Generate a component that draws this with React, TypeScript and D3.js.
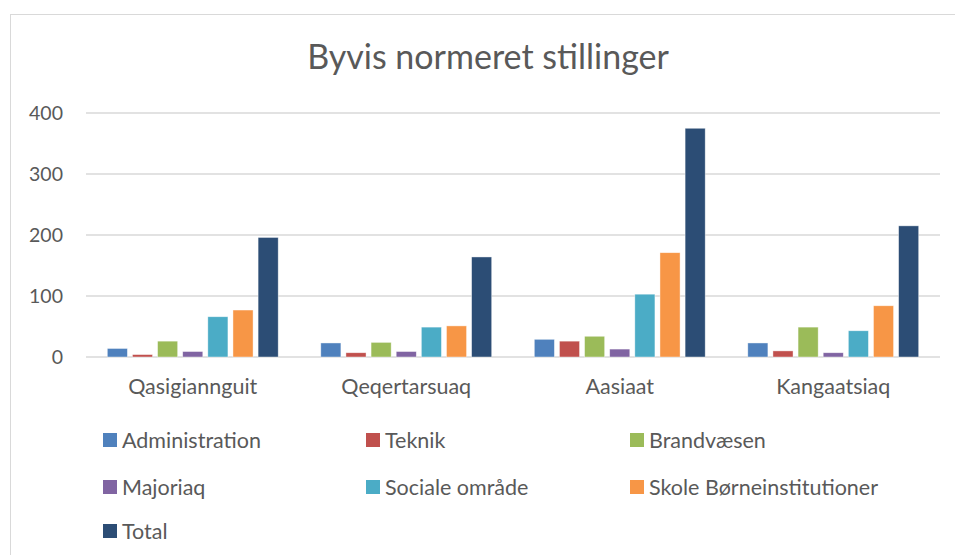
import React, { useRef, useEffect } from "react";
import * as d3 from "d3";

const width = 955;
const height = 555;

const cities = ["Qasigiannguit", "Qeqertarsuaq", "Aasiaat", "Kangaatsiaq"];
const seriesNames = [
  "Administration",
  "Teknik",
  "Brandvæsen",
  "Majoriaq",
  "Sociale område",
  "Skole Børneinstitutioner",
  "Total",
];
const seriesColors = ["#4f81bd", "#c0504d", "#9bbb59", "#8064a2", "#4bacc6", "#f79646", "#2c4d75"];

// values per series, in city order
const administration = [14, 23, 29, 23];
const teknik = [4, 7, 26, 10];
const brandvaesen = [26, 24, 34, 49];
const majoriaq = [9, 9, 13, 7];
const socialeOmraade = [66, 49, 103, 43];
const skoleBoern = [77, 51, 171, 84];
const total = [196, 164, 375, 215];

const yTicks = [0, 100, 200, 300, 400];

const margin = { top: 113, right: 15, bottom: 198, left: 86 };
const font = "Lato, 'Open Sans', sans-serif";
const textColor = "#595959";

const App: React.FC = () => {
  const svgRef = useRef<SVGSVGElement | null>(null);

  useEffect(() => {
    if (!svgRef.current) return;
    const svg = d3.select(svgRef.current);
    svg.selectAll("*").remove();

    const series = [administration, teknik, brandvaesen, majoriaq, socialeOmraade, skoleBoern, total];
    const innerWidth = width - margin.left - margin.right;
    const innerHeight = height - margin.top - margin.bottom;

    // chart frame
    svg
      .append("rect")
      .attr("x", 10.5)
      .attr("y", 14.5)
      .attr("width", width + 20)
      .attr("height", height + 20)
      .attr("fill", "white")
      .attr("stroke", "#d9d9d9");

    svg
      .append("text")
      .attr("x", 488)
      .attr("y", 69)
      .attr("text-anchor", "middle")
      .attr("font-family", font)
      .attr("font-size", 34)
      .attr("fill", textColor)
      .text("Byvis normeret stillinger");

    const g = svg.append("g").attr("transform", `translate(${margin.left},${margin.top})`);

    const x0 = d3.scaleBand<string>().domain(cities).range([0, innerWidth]).paddingInner(0.176).paddingOuter(0.088);
    const x1 = d3
      .scaleBand<string>()
      .domain(seriesNames)
      .range([0, x0.bandwidth()])
      .paddingInner(0.2)
      .paddingOuter(0.1);
    const y = d3.scaleLinear().domain([0, 400]).range([innerHeight, 0]);

    // gridlines
    g.append("g")
      .selectAll("line")
      .data(yTicks)
      .enter()
      .append("line")
      .attr("x1", 0)
      .attr("x2", innerWidth)
      .attr("y1", (d) => y(d))
      .attr("y2", (d) => y(d))
      .attr("stroke", "#d9d9d9")
      .attr("stroke-width", 1.3);

    const yAxis = g.append("g").call(d3.axisLeft(y).tickValues(yTicks).tickSize(0).tickPadding(23));
    yAxis.select(".domain").remove();
    yAxis
      .selectAll("text")
      .attr("font-family", font)
      .attr("font-size", 19.5)
      .attr("fill", textColor);

    const xAxis = g
      .append("g")
      .attr("transform", `translate(0,${innerHeight})`)
      .call(d3.axisBottom(x0).tickSize(0).tickPadding(22));
    xAxis.select(".domain").remove();
    xAxis
      .selectAll("text")
      .attr("font-family", font)
      .attr("font-size", 21.5)
      .attr("fill", textColor);

    // bars
    const groups = g
      .append("g")
      .selectAll("g")
      .data(cities)
      .enter()
      .append("g")
      .attr("transform", (d) => `translate(${x0(d)},0)`);

    groups
      .selectAll("rect")
      .data((_, ci) => seriesNames.map((name, si) => ({ name, value: series[si][ci], color: seriesColors[si] })))
      .enter()
      .append("rect")
      .attr("x", (d) => x1(d.name) as number)
      .attr("width", x1.bandwidth())
      .attr("y", (d) => y(d.value))
      .attr("height", (d) => innerHeight - y(d.value))
      .attr("fill", (d) => d.color)
      .attr("stroke", "white")
      .attr("stroke-opacity", 0.6)
      .attr("stroke-width", 0.7);

    // legend, three columns
    const colX = [103, 366, 630];
    const rowY = [440, 487, 531];
    const legend = svg
      .append("g")
      .selectAll("g")
      .data(seriesNames)
      .enter()
      .append("g")
      .attr("transform", (_, i) => `translate(${colX[i % 3]},${rowY[Math.floor(i / 3)]})`);

    legend
      .append("rect")
      .attr("x", 0)
      .attr("y", -7)
      .attr("width", 14)
      .attr("height", 14)
      .attr("fill", (_, i) => seriesColors[i]);

    legend
      .append("text")
      .attr("x", 19)
      .attr("y", 0)
      .attr("dy", "0.36em")
      .attr("font-family", font)
      .attr("font-size", 21.5)
      .attr("fill", textColor)
      .text((d) => d);
  }, []);

  return (
    <svg
      ref={svgRef}
      width={width}
      height={height}
      style={{ position: "absolute", left: 0, top: 0, display: "block" }}
    />
  );
};

export default App;
